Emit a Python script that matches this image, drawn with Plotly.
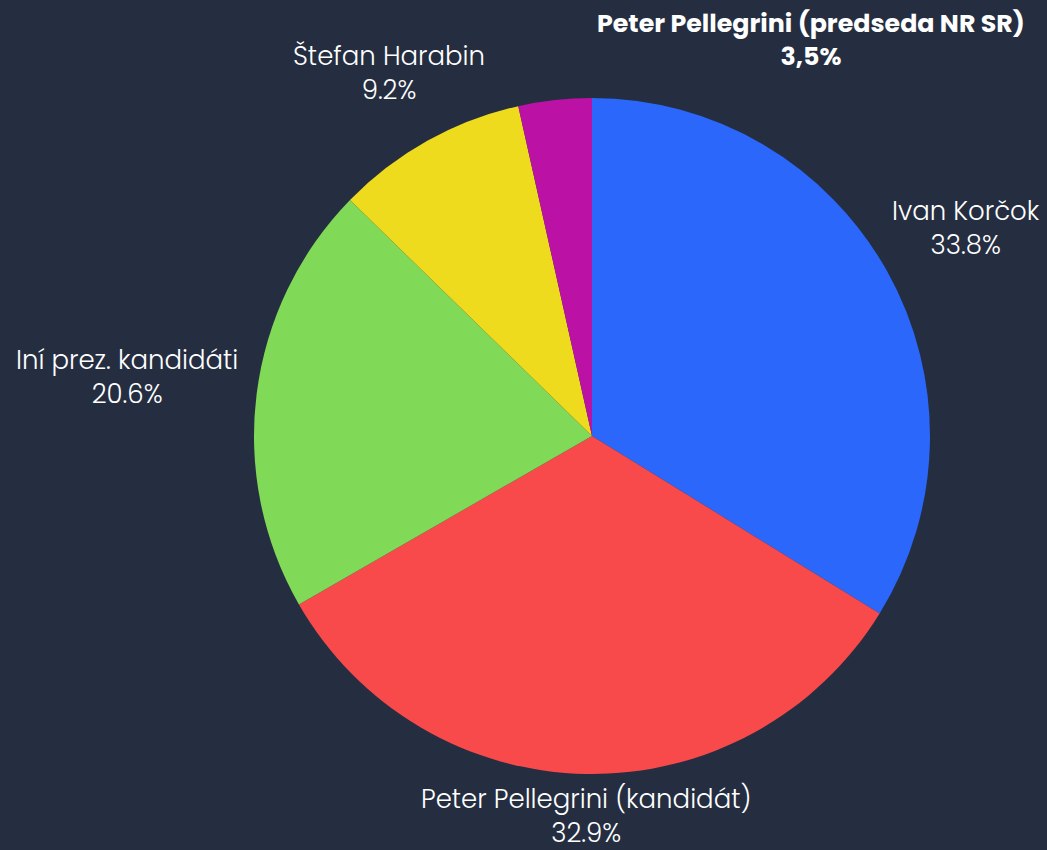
import math
import plotly.graph_objects as go

labels = ["Ivan Korčok", "Peter Pellegrini (kandidát)", "Iní prez. kandidáti",
          "Štefan Harabin", "Peter Pellegrini (predseda NR SR)"]
values = [33.8, 32.9, 20.6, 9.2, 3.5]
colors = ["#2a67fa", "#f94a4b", "#80da57", "#eedb1e", "#bb12a5"]
bold = [False, False, False, False, True]

# label placement: distance factor (x radius) and angle offset (deg) from slice mid-angle
label_dist = [1.266, 1.125, 1.387, 1.23, 1.34]
label_ang_off = [0.0, 0.0, 0.0, 0.0, 35.2]

FONT = "Poppins, Lato, sans-serif"

fig = go.Figure(go.Pie(
    labels=labels, values=values, textinfo="none",
    sort=False, direction="clockwise", rotation=0,
    marker=dict(colors=colors, line=dict(width=0)),
    hoverinfo="label+percent", showlegend=False,
))

total = sum(values)
cum = 0.0
for lab, v, b, f, off in zip(labels, values, bold, label_dist, label_ang_off):
    mid = (cum + v / 2) / total * 360.0 + off
    cum += v
    th = math.radians(mid)
    x = 0.5 + f * 0.5 * math.sin(th)
    y = 0.5 + f * 0.5 * math.cos(th)
    if b:
        txt = f"<b>{lab}<br>{v:.1f}%</b>".replace(".", ",")
        size = 25.3
        weight = "bold"
    else:
        txt = f"{lab}<br>{v:.1f}%"
        size = 26
        weight = 300
    fig.add_annotation(x=x, y=y, xref="paper", yref="paper", text=txt,
                       showarrow=False, xanchor="center", yanchor="middle",
                       align="center",
                       font=dict(color="white", size=size, family=FONT, weight=weight))

fig.update_layout(
    width=1047, height=850,
    paper_bgcolor="#252e41", plot_bgcolor="#252e41",
    margin=dict(l=254, r=117, t=98, b=76),
    font=dict(family=FONT, color="white", size=26),
)
fig.write_html("out.html", config={"displayModeBar": False})

with open("out.html", encoding="utf-8") as fh:
    html = fh.read()
html = html.replace("<body>", '<body style="margin:0;background:#252e41">', 1)
with open("out.html", "w", encoding="utf-8") as fh:
    fh.write(html)
